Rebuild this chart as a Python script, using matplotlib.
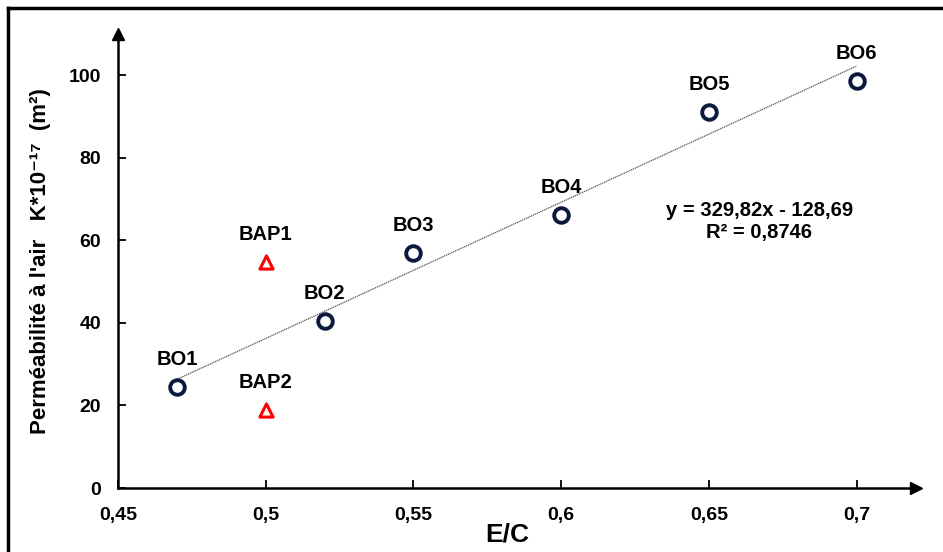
import numpy as np
import matplotlib
matplotlib.use('Agg')
import matplotlib.pyplot as plt
from matplotlib.lines import Line2D

# donnees
ec_bo = [0.47, 0.52, 0.55, 0.60, 0.65, 0.70]
perm_bo = [24.5, 40.4, 56.9, 66.1, 91.0, 98.5]
noms_bo = ['BO1', 'BO2', 'BO3', 'BO4', 'BO5', 'BO6']

ec_bap = [0.50, 0.50]
perm_bap = [54.7, 18.9]
noms_bap = ['BAP1', 'BAP2']

pente, ordonnee = 329.82, -128.69
r2 = '0,8746'

xticks = [0.45, 0.5, 0.55, 0.6, 0.65, 0.7]
xticklabels = ['0,45', '0,5', '0,55', '0,6', '0,65', '0,7']
yticks = [0, 20, 40, 60, 80, 100]

plt.rcParams['font.family'] = ['Liberation Sans', 'DejaVu Sans']
plt.rcParams['font.weight'] = 'bold'

fig = plt.figure(figsize=(9.43, 5.52), dpi=100)
ax = fig.add_axes([0.1251, 0.1159, 0.846, 0.823])

# cadre autour de la figure
fig.add_artist(Line2D([0.0085, 0.0085], [0, 0.986], color='black', lw=2.5, transform=fig.transFigure))
fig.add_artist(Line2D([0.0085, 1], [0.986, 0.986], color='black', lw=2.5, transform=fig.transFigure))

# droite de tendance
xl = np.array([min(ec_bo), max(ec_bo)])
ax.plot(xl, pente * xl + ordonnee, color='#555555', lw=0.9, ls=(0, (1, 0.6)))

ax.scatter(ec_bo, perm_bo, s=110, facecolors='white', edgecolors='#0b1a3c', linewidths=2.8, zorder=3)
ax.scatter(ec_bap, perm_bap, s=90, marker='^', facecolors='white', edgecolors='#ff0000', linewidths=2.2, zorder=3)

for x, y, n in zip(ec_bo + ec_bap, perm_bo + perm_bap, noms_bo + noms_bap):
    ax.annotate(n, (x, y), xytext=(0, 13), textcoords='offset points', ha='center', va='bottom', fontsize=14.5, fontweight='bold')

ax.text(0.667, 64.6, 'y = 329,82x - 128,69\nR² = ' + r2, ha='center', va='center', fontsize=14.5, fontweight='bold', linespacing=1.2)

ax.set_xlim(0.45, 0.72)
ax.set_ylim(0, 110)
ax.set_xticks(xticks)
ax.set_xticklabels(xticklabels)
ax.set_yticks(yticks)
ax.tick_params(axis='both', direction='in', length=6, width=1.3, labelsize=14)
ax.tick_params(axis='x', pad=14)
ax.tick_params(axis='y', pad=12)
for lab in ax.get_xticklabels() + ax.get_yticklabels():
    lab.set_fontweight('bold')

ax.spines['top'].set_visible(False)
ax.spines['right'].set_visible(False)
ax.spines['left'].set_linewidth(1.8)
ax.spines['bottom'].set_linewidth(1.8)
# fleches au bout des axes
ax.plot(1, 0, '>k', ms=8, transform=ax.transAxes, clip_on=False)
ax.plot(0, 1, '^k', ms=8, transform=ax.transAxes, clip_on=False)

ax.set_xlabel('E/C', fontsize=19, fontweight='bold')
ax.xaxis.set_label_coords(0.488, -0.075)
ax.set_ylabel("Perméabilité à l'air   K*10⁻¹⁷  (m²)", fontsize=16, fontweight='bold')
ax.yaxis.set_label_coords(-0.084, 0.5)

fig.savefig('out.png', dpi=100)
